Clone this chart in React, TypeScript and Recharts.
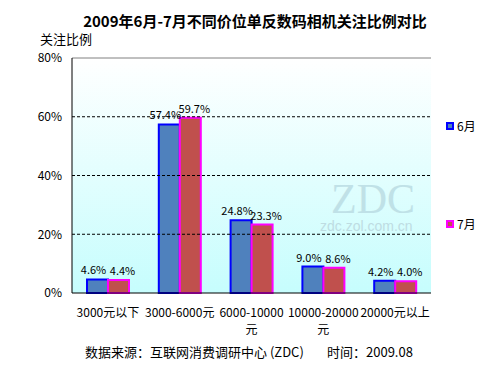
import React from 'react';
import { BarChart, Bar, XAxis, YAxis, CartesianGrid, ReferenceLine, LabelList } from 'recharts';

const categories = ['3000元以下', '3000-6000元', '6000-10000元', '10000-20000元', '20000元以上'];
const june = [4.6, 57.4, 24.8, 9.0, 4.2];
const july = [4.4, 59.7, 23.3, 8.6, 4.0];
const yTicks = [0, 20, 40, 60, 80];

const data = categories.map((name, i) => ({ name, june: june[i], july: july[i] }));

const FONT = '"Noto Sans CJK SC", "DejaVu Sans", sans-serif';

const series = [
  { key: 'june', name: '6月', fill: '#4F81BD', stroke: '#0000FF', shift: -4 },
  { key: 'july', name: '7月', fill: '#C0504D', stroke: '#FF00FF', shift: 4 },
];

const CategoryTick = (props: any) => {
  const { x, y, payload } = props;
  const label: string = payload.value;
  const lines = label.length >= 11 ? [label.slice(0, -1), label.slice(-1)] : [label];
  return (
    <text x={x} y={y} textAnchor="middle" fontSize={12} fill="#000" fontFamily={FONT}>
      {lines.map((l, i) => (
        <tspan key={i} x={x} dy={i === 0 ? 16 : 17}>
          {l}
        </tspan>
      ))}
    </text>
  );
};

export default function App() {
  return (
    <div style={{ position: 'absolute', left: 0, top: 0, width: 500, height: 375, background: '#fff', fontFamily: FONT }}>
      <div style={{ position: 'absolute', left: 0, top: 10, width: 510, textAlign: 'center', fontSize: 15, fontWeight: 'bold' }}>
        2009年6月-7月不同价位单反数码相机关注比例对比
      </div>
      <div style={{ position: 'absolute', left: 40, top: 29, fontSize: 13 }}>关注比例</div>
      <BarChart
        width={500}
        height={375}
        data={data}
        margin={{ top: 58, right: 69, bottom: 52, left: 0 }}
        barGap={0}
        barSize={21}
      >
        <defs>
          <linearGradient id="bgGrad" x1="0" y1="0" x2="0" y2="1">
            <stop offset="0%" stopColor="#ffffff" />
            <stop offset="100%" stopColor="#c6fdfd" />
          </linearGradient>
        </defs>
        <CartesianGrid fill="url(#bgGrad)" horizontal={false} vertical={false} />
        <XAxis
          dataKey="name"
          interval={0}
          height={30}
          tickLine={false}
          axisLine={{ stroke: '#000' }}
          tick={<CategoryTick />}
        />
        <YAxis
          domain={[0, 80]}
          ticks={yTicks}
          width={72}
          tickLine={false}
          tickMargin={4}
          axisLine={{ stroke: '#000' }}
          tickFormatter={(v: number) => `${v}%`}
          tick={{ fontSize: 12, fill: '#000', fontFamily: FONT }}
        />
        <YAxis yAxisId="right" orientation="right" width={0} tick={false} tickLine={false} axisLine={{ stroke: '#808080' }} />
        {[20, 40, 60].map((v) => (
          <ReferenceLine key={v} y={v} stroke="#000" strokeDasharray="3 2" />
        ))}
        <ReferenceLine y={80} stroke="#808080" />
        {series.map((s) => (
          <Bar key={s.key} dataKey={s.key} name={s.name} fill={s.fill} stroke={s.stroke} strokeWidth={2} isAnimationActive={false}>
            <LabelList
              dataKey={s.key}
              position="top"
              offset={5}
              dx={s.shift}
              formatter={(v: any) => `${Number(v).toFixed(1)}%`}
              style={{ fontSize: 11, fill: '#000', fontFamily: FONT }}
            />
          </Bar>
        ))}
      </BarChart>
      <div
        style={{
          position: 'absolute',
          left: 331,
          top: 184,
          fontSize: 42,
          lineHeight: '30px',
          fontFamily: '"Liberation Serif", serif',
          color: '#b9dbe2',
          opacity: 0.8,
        }}
      >
        ZDC
      </div>
      <div
        style={{
          position: 'absolute',
          left: 320,
          top: 219,
          fontSize: 14,
          lineHeight: '14px',
          fontFamily: '"Liberation Sans", sans-serif',
          color: '#b9d5dc',
          opacity: 0.8,
        }}
      >
        zdc.zol.com.cn
      </div>
      {series.map((s, i) => (
        <div
          key={s.key}
          style={{ position: 'absolute', left: 446, top: i === 0 ? 117 : 215, display: 'flex', alignItems: 'center', fontSize: 12 }}
        >
          <span
            style={{ display: 'inline-block', width: 4, height: 4, background: s.fill, border: `2px solid ${s.stroke}`, marginRight: 3 }}
          />
          {s.name}
        </div>
      ))}
      <div style={{ position: 'absolute', left: 85, top: 342, fontSize: 13 }}>数据来源：互联网消费调研中心 (ZDC)</div>
      <div style={{ position: 'absolute', left: 327, top: 342, fontSize: 13 }}>时间：2009.08</div>
    </div>
  );
}
